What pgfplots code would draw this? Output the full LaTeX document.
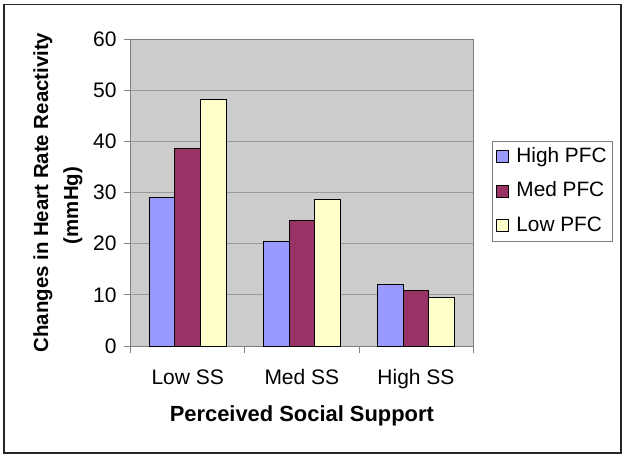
\documentclass[border=0pt]{standalone}
\usepackage{pgfplots}
\pgfplotsset{compat=1.18}
\usepackage{fontspec}
\setmainfont{Liberation Sans}
\definecolor{hipfc}{HTML}{9999FF}
\definecolor{medpfc}{HTML}{993366}
\definecolor{lowpfc}{HTML}{FFFFCC}
\definecolor{plotbg}{HTML}{CCCCCC}
\definecolor{gridc}{HTML}{9A9A9A}
\definecolor{axc}{HTML}{808080}
\begin{document}
\begin{tikzpicture}
\path[use as bounding box] (0,0) rectangle (626pt,458pt);
\draw[line width=1.6pt, color=black!85] (4pt,5.3pt) rectangle (620.7pt,453.5pt);
\begin{axis}[
  at={(130.7pt,112pt)}, anchor=south west,
  width=342.3pt, height=307pt, scale only axis,
  ybar=0pt, bar width=25.7pt,
  xmin=-0.5, xmax=2.5, ymin=0, ymax=60,
  xtick={-0.5,0.5,1.5,2.5},
  xticklabels={Low SS,Med SS,High SS},
  x tick label as interval=true,
  ytick={0,10,20,30,40,50,60},
  ymajorgrids=true,
  grid style={gridc, line width=0.8pt},
  axis line style={axc, line width=0.8pt},
  axis background/.style={fill=plotbg},
  tick align=outside, major tick length=7pt,
  tick style={axc, line width=0.8pt},
  xtick pos=bottom, ytick pos=left,
  /pgf/number format/assume math mode=true,
  ticklabel style={font=\fontsize{21}{24}\selectfont},
  xticklabel style={anchor=base, yshift=-31pt},
  yticklabel style={anchor=east, inner sep=0pt, xshift=-7pt},
  every axis y label/.style={at={(rel axis cs:-0.2124,0.5)}, rotate=90, anchor=center, align=center, font=\fontsize{20.4}{30}\selectfont\bfseries},
  ylabel={Changes in Heart Rate Reactivity\\(mmHg)\hspace*{26pt}},
  every axis x label/.style={at={(rel axis cs:0.5,-0.2466)}, anchor=base, font=\fontsize{21.9}{24}\selectfont\bfseries},
  xlabel={Perceived Social Support},
  legend style={at={(rel axis cs:1.0547,0.6687)}, anchor=north west,
    draw=axc, line width=0.8pt, fill=white,
    font=\fontsize{20.8}{24}\selectfont, row sep=11.5pt,
    inner sep=4pt,
    nodes={text height=15pt, text depth=4pt, inner sep=2pt}},
  legend cell align=left,
  legend image code/.code={\draw[#1, line width=0.6pt] (0pt,-6pt) rectangle (12pt,6pt); \path[draw=none, fill=none] (0pt,0pt) -- (18pt,0pt);},
]
\addplot[fill=hipfc, draw=black, line width=1pt] coordinates {(0,29.0) (1,20.4) (2,12.1)};
\addplot[fill=medpfc, draw=black, line width=1pt] coordinates {(0,38.6) (1,24.6) (2,10.75)};
\addplot[fill=lowpfc, draw=black, line width=1pt] coordinates {(0,48.1) (1,28.7) (2,9.5)};
\legend{High PFC, Med PFC, Low PFC}
\end{axis}
\end{tikzpicture}
\end{document}
